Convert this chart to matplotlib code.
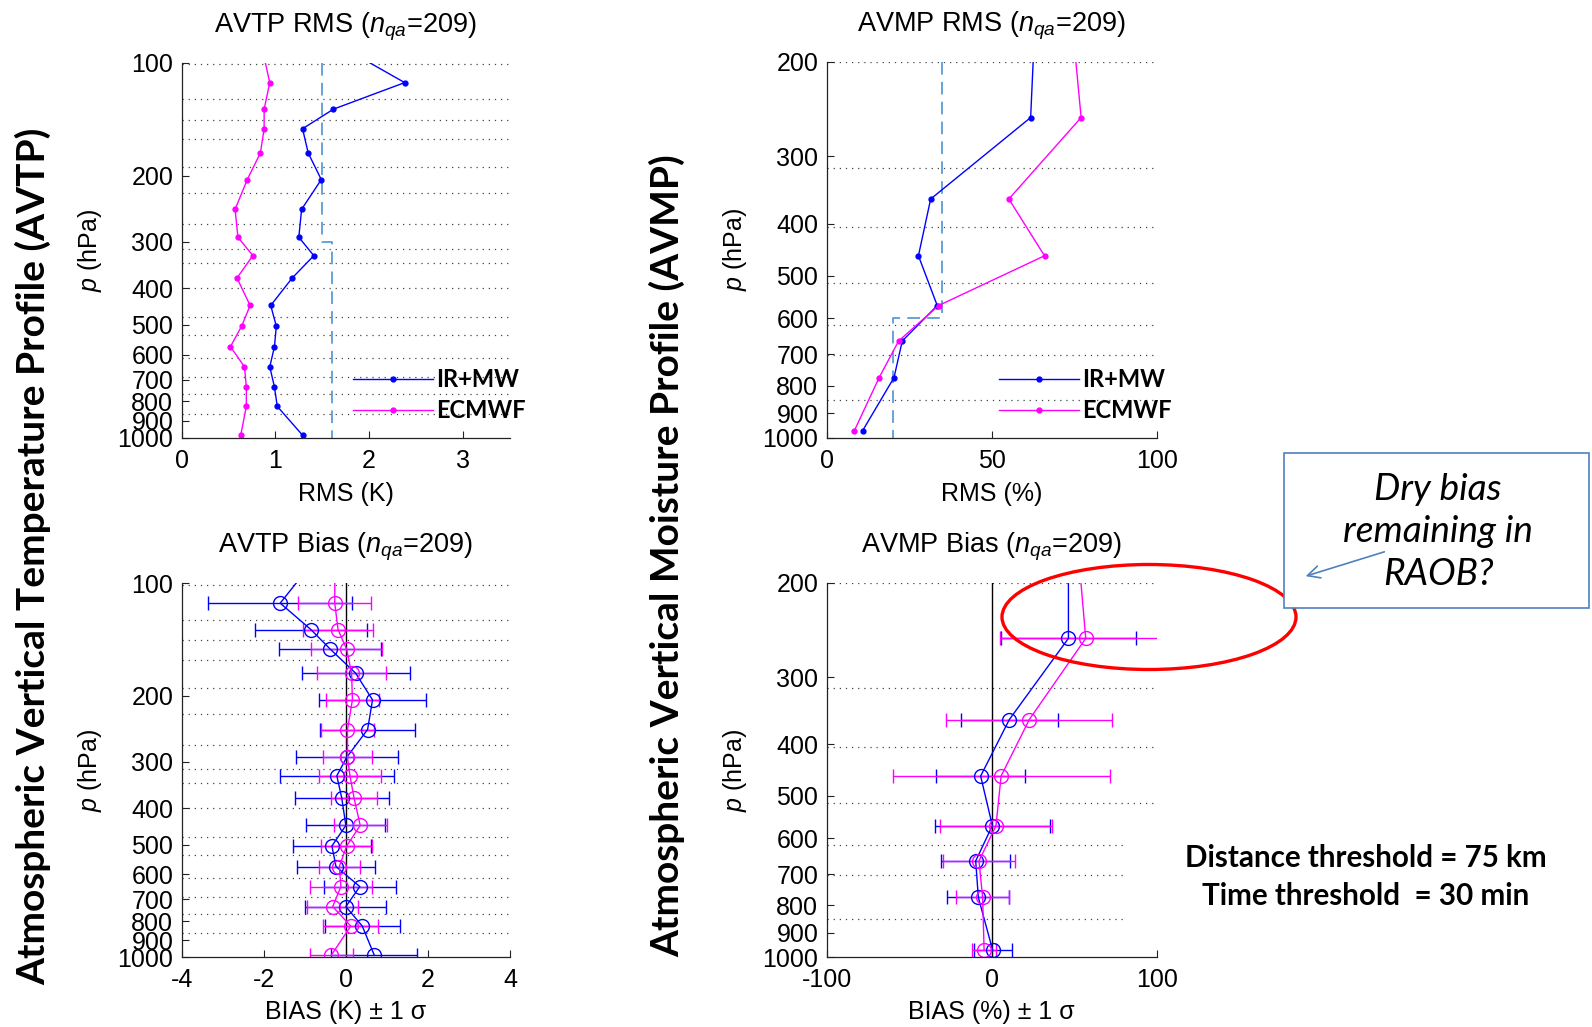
import matplotlib
matplotlib.use('Agg')
import matplotlib.pyplot as plt
from matplotlib.patches import Ellipse, Rectangle, FancyArrowPatch
from matplotlib.ticker import NullLocator, FixedLocator

plt.rcParams['font.family'] = ['Liberation Sans', 'DejaVu Sans']
plt.rcParams['mathtext.fontset'] = 'custom'
plt.rcParams['mathtext.rm'] = 'Liberation Sans'
plt.rcParams['mathtext.it'] = 'Liberation Sans:italic'
plt.rcParams['axes.unicode_minus'] = False

W, H = 1592, 1027

# ---------------- data ----------------
# temperature levels (hPa); first level lies above the plotted range
t_levels = [92, 113, 133, 150, 174, 205, 246, 292, 327, 375, 444, 504, 572, 647, 732, 825, 985]
t_rms_irmw = [1.75, 2.38, 1.62, 1.29, 1.35, 1.49, 1.28, 1.25, 1.41, 1.18, 0.95, 1.01, 0.99, 0.94, 0.99, 1.02, 1.29]
t_rms_ecmwf = [0.86, 0.94, 0.88, 0.88, 0.84, 0.70, 0.57, 0.60, 0.76, 0.59, 0.73, 0.64, 0.52, 0.67, 0.69, 0.69, 0.63]
t_bias_irmw = [-0.95, -1.60, -0.85, -0.38, 0.24, 0.65, 0.53, 0.02, -0.22, -0.10, 0.00, -0.34, -0.24, 0.34, 0.00, 0.40, 0.69]
t_sd_irmw = [0, 1.76, 1.36, 1.24, 1.32, 1.31, 1.16, 1.24, 1.39, 1.15, 0.96, 0.96, 0.96, 0.88, 0.99, 0.92, 1.05]
t_bias_ecmwf = [-0.27, -0.27, -0.19, 0.02, 0.14, 0.16, 0.04, 0.04, 0.10, 0.20, 0.35, 0.02, -0.16, -0.12, -0.32, 0.12, -0.35]
t_sd_ecmwf = [0, 0.89, 0.85, 0.86, 0.84, 0.65, 0.64, 0.60, 0.76, 0.55, 0.65, 0.62, 0.50, 0.75, 0.62, 0.67, 0.52]
t_thr_p = [100, 300, 300, 1000]
t_thr = [1.5, 1.5, 1.6, 1.6]
t_grid = [101, 125, 142, 160, 190, 223, 270, 313, 342, 400, 477, 532, 612, 690, 766, 862]
t_ticks = [100, 200, 300, 400, 500, 600, 700, 800, 900, 1000]

# moisture levels (hPa); first level lies above the plotted range
m_levels = [180, 254, 360, 459, 568, 661, 773, 970]
m_rms_irmw = [62.9, 61.8, 31.5, 27.8, 33.5, 22.9, 20.4, 10.9]
m_rms_ecmwf = [74.8, 77.1, 55.2, 66.0, 33.9, 21.8, 15.9, 8.4]
m_bias_irmw = [46.5, 46.5, 10.7, -6.7, 0.4, -9.7, -8.1, 0.6]
m_sd_irmw = [0, 41.0, 29.6, 27.0, 35.0, 21.0, 18.7, 11.4]
m_bias_ecmwf = [52.8, 57.0, 22.8, 5.7, 2.6, -7.7, -5.5, -4.6]
m_sd_ecmwf = [0, 52.0, 50.3, 65.8, 33.8, 22.0, 16.0, 7.5]
m_thr_p = [200, 600, 600, 1000]
m_thr = [35, 35, 20, 20]
m_grid = [200, 315, 405, 515, 617, 701, 850]
m_ticks = [200, 300, 400, 500, 600, 700, 800, 900, 1000]

BLUE = '#0000FF'
MAG = '#FF00FF'
THR = '#5B9BD5'
FS = 18
TFS = 19.5

fig = plt.figure(figsize=(W / 100, H / 100), dpi=100)


def axpos(l, r, t, b):
    return [l / W, 1 - b / H, (r - l) / W, (b - t) / H]


def style(ax, ticks, ylim, grid):
    ax.set_yscale('log')
    ax.set_ylim(ylim)
    ax.yaxis.set_major_locator(FixedLocator(ticks))
    ax.set_yticklabels([str(t) for t in ticks])
    ax.yaxis.set_minor_locator(NullLocator())
    for s in ('top', 'right'):
        ax.spines[s].set_visible(False)
    for s in ('left', 'bottom'):
        ax.spines[s].set_color('#222222')
        ax.spines[s].set_linewidth(0.9)
    ax.tick_params(direction='in', length=5, width=0.8, labelsize=FS, pad=6,
                   color='#222222')
    ax.tick_params(axis='x', pad=8)
    for p in grid:
        ax.axhline(p, color='#444444', lw=0.9, ls=(0, (1, 3.9)), zorder=0.5)
    ax.set_ylabel('$p$ (hPa)', fontsize=FS, labelpad=10)


# ---------- panel 1: AVTP RMS ----------
ax1 = fig.add_axes(axpos(181.7, 509.6, 62.7, 437.7))
style(ax1, t_ticks, (1000, 100), t_grid)
ax1.plot(t_thr, t_thr_p, color=THR, lw=1.3, ls=(0, (7, 4)))
ax1.plot(t_rms_irmw, t_levels, color=BLUE, lw=1, marker='.', ms=7, label='IR+MW')
ax1.plot(t_rms_ecmwf, t_levels, color=MAG, lw=1, marker='.', ms=7, label='ECMWF')
ax1.set_xlim(0, 3.5)
ax1.set_xticks([0, 1, 2, 3])
ax1.set_xlabel('RMS (K)', fontsize=FS, labelpad=6.5)
ax1.set_title('AVTP RMS ($n_{qa}$=209)', fontsize=TFS, pad=22)

# ---------- panel 2: AVMP RMS ----------
ax2 = fig.add_axes(axpos(826.7, 1156.7, 61.7, 437.7))
style(ax2, m_ticks, (1000, 200), m_grid)
ax2.plot(m_thr, m_thr_p, color=THR, lw=1.3, ls=(0, (7, 4)))
ax2.plot(m_rms_irmw, m_levels, color=BLUE, lw=1, marker='.', ms=7, label='IR+MW')
ax2.plot(m_rms_ecmwf, m_levels, color=MAG, lw=1, marker='.', ms=7, label='ECMWF')
ax2.set_xlim(0, 100)
ax2.set_xticks([0, 50, 100])
ax2.set_xlabel('RMS (%)', fontsize=FS, labelpad=6.5)
ax2.set_title('AVMP RMS ($n_{qa}$=209)', fontsize=TFS, pad=22)

for ax, x0 in ((ax1, 353), (ax2, 999)):
    ax.legend(loc='upper left', bbox_to_anchor=(x0 / W, 1 - 368 / H),
              bbox_transform=fig.transFigure, frameon=False, borderpad=0,
              borderaxespad=0, handlelength=3.4, handletextpad=0.1,
              labelspacing=0.33, numpoints=1,
              prop={'family': 'Lato', 'weight': 'bold', 'size': 17})

# ---------- panel 3: AVTP Bias ----------
ax3 = fig.add_axes(axpos(181.7, 510, 583.3, 957.3))
style(ax3, t_ticks, (1000, 100), t_grid)
ax3.axvline(0, color='black', lw=1)
ax3.errorbar(t_bias_irmw, t_levels, xerr=t_sd_irmw, color=BLUE, lw=1, elinewidth=1,
             marker='o', ms=10, mfc='none', mew=1, capsize=4.7, capthick=1)
ax3.errorbar(t_bias_ecmwf, t_levels, xerr=t_sd_ecmwf, color=MAG, lw=1, elinewidth=1,
             marker='o', ms=10, mfc='none', mew=1, capsize=4.7, capthick=1)
ax3.set_xlim(-4, 4)
ax3.set_xticks([-4, -2, 0, 2, 4])
ax3.set_xlabel('BIAS (K) ± 1 σ', fontsize=FS, labelpad=5.5)
ax3.set_title('AVTP Bias ($n_{qa}$=209)', fontsize=TFS, pad=22)

# ---------- panel 4: AVMP Bias ----------
ax4 = fig.add_axes(axpos(826.7, 1156.7, 582.7, 957.3))
style(ax4, m_ticks, (1000, 200), m_grid)
ax4.axvline(0, color='black', lw=1)
ax4.errorbar(m_bias_irmw, m_levels, xerr=m_sd_irmw, color=BLUE, lw=1, elinewidth=1,
             marker='o', ms=10, mfc='none', mew=1, capsize=4.7, capthick=1)
ax4.errorbar(m_bias_ecmwf, m_levels, xerr=m_sd_ecmwf, color=MAG, lw=1, elinewidth=1,
             marker='o', ms=10, mfc='none', mew=1, capsize=4.7, capthick=1)
ax4.set_xlim(-100, 100)
ax4.set_xticks([-100, 0, 100])
ax4.set_xlabel('BIAS (%) ± 1 σ', fontsize=FS, labelpad=5.5)
ax4.set_title('AVMP Bias ($n_{qa}$=209)', fontsize=TFS, pad=22)

# ---------- big side labels ----------
fig.text(33.5 / W, 1 - 556 / H, 'Atmospheric Vertical Temperature Profile (AVTP)',
         rotation=90, ha='center', va='center', fontsize=28, family='Lato',
         weight='bold')
fig.text(667 / W, 1 - 556 / H, 'Atmospheric Vertical Moisture Profile (AVMP)',
         rotation=90, ha='center', va='center', fontsize=28, family='Lato',
         weight='bold')

# ---------- annotations ----------
# white textbox background that hides the grid lines under the threshold text
fig.add_artist(Rectangle((1125 / W, 1 - 935 / H), (W - 1125) / W, 120 / H,
                         transform=fig.transFigure, facecolor='white',
                         edgecolor='none', zorder=5))
fig.text(1366 / W, 1 - 858 / H, 'Distance threshold = 75 km', ha='center',
         va='center', fontsize=21.3, family='Lato', weight='bold', zorder=6)
fig.text(1366 / W, 1 - 896 / H, 'Time threshold  = 30 min', ha='center',
         va='center', fontsize=21.3, family='Lato', weight='bold', zorder=6)

fig.add_artist(Ellipse((1149 / W, 1 - 617 / H), 294 / W, 105 / H,
                       transform=fig.transFigure, facecolor='none',
                       edgecolor='#FF0000', lw=2.4, zorder=6))
fig.add_artist(Rectangle((1284 / W, 1 - 608 / H), 305 / W, 155 / H,
                         transform=fig.transFigure, facecolor='white',
                         edgecolor='#4F81BD', lw=1.2, zorder=6))
fig.text(1438 / W, 1 - 532 / H, 'Dry bias\nremaining in\nRAOB?', ha='center',
         va='center', fontsize=26.7, family='Lato', style='italic',
         linespacing=1.36, zorder=7)
fig.add_artist(FancyArrowPatch((1387 / W, 1 - 551 / H), (1303 / W, 1 - 577 / H),
                               transform=fig.transFigure, arrowstyle='->',
                               mutation_scale=22, color='#4F81BD', lw=1.2,
                               zorder=8))

fig.savefig('out.png', dpi=100)
